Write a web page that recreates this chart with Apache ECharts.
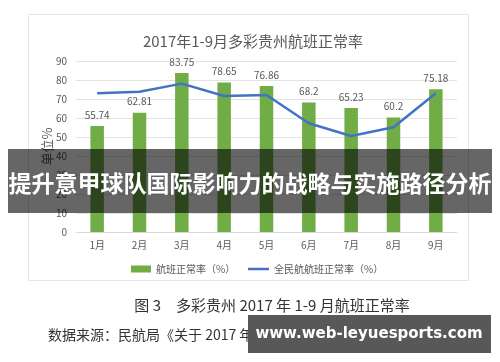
<!DOCTYPE html>
<html>
<head>
<meta charset="utf-8">
<script src="https://cdn.jsdelivr.net/npm/echarts@6/dist/echarts.min.js"></script>
<style>html,body{margin:0;padding:0;background:#fff;}#c{width:500px;height:362px;}</style>
</head>
<body>
<div id="c"></div>
<script>
var categories = ['1月','2月','3月','4月','5月','6月','7月','8月','9月'];
var barValues = [55.74, 62.81, 83.75, 78.65, 76.86, 68.2, 65.23, 60.2, 75.18];
var lineValues = [73.0, 73.8, 78.1, 71.6, 72.1, 57.2, 50.5, 55.1, 73.0];
var barName = '航班正常率（%）';
var lineName = '全民航航班正常率（%）';
var titleText = '2017年1-9月多彩贵州航班正常率';
var bannerText = '提升意甲球队国际影响力的战略与实施路径分析';
var captionText = '图 3　多彩贵州 2017 年 1-9 月航班正常率';
var sourceText = '数据来源：民航局《关于 2017 年';
var watermarkText = 'www.web-leyuesports.com';

var cjk = '"Noto Sans CJK SC", sans-serif';
var chart = echarts.init(document.getElementById('c'));
chart.setOption({
  animation: false,
  backgroundColor: '#fff',
  title: {
    text: titleText, left: 248, top: 29, textAlign: 'center',
    textStyle: {fontFamily: cjk, fontSize: 15, fontWeight: 'normal', color: '#595959'}
  },
  grid: {left: 76, right: 43, top: 61, bottom: 130},
  legend: [
    {
      left: 126, top: 259, itemWidth: 20, itemHeight: 7,
      textStyle: {fontFamily: cjk, fontSize: 10, color: '#595959'},
      data: [{name: barName, icon: 'rect'}]
    },
    {
      left: 243, top: 259, itemWidth: 21, itemHeight: 2.5,
      textStyle: {fontFamily: cjk, fontSize: 10, color: '#595959'},
      data: [{name: lineName, icon: 'rect'}]
    }
  ],
  xAxis: {
    type: 'category', data: categories,
    axisLine: {lineStyle: {color: '#d9d9d9'}},
    axisTick: {show: false},
    axisLabel: {fontFamily: cjk, fontSize: 10, color: '#595959', margin: 8}
  },
  yAxis: {
    type: 'value', min: 0, max: 90, interval: 10,
    name: '单位%', nameLocation: 'middle', nameGap: 22, nameRotate: 90, nameMoveOverlap: false,
    nameTextStyle: {fontFamily: cjk, fontSize: 13, color: '#595959'},
    axisLine: {show: false}, axisTick: {show: false},
    axisLabel: {fontFamily: cjk, fontSize: 10, color: '#595959', margin: 9},
    splitLine: {lineStyle: {color: '#e3e3e3'}}
  },
  series: [
    {
      name: barName, type: 'bar', data: barValues, barWidth: 13.5,
      itemStyle: {color: '#70AD47'},
      label: {show: true, position: 'top', fontFamily: cjk, fontSize: 10, color: '#595959', distance: 6}
    },
    {
      name: lineName, type: 'line', data: lineValues, showSymbol: false, symbol: 'none',
      lineStyle: {color: '#4472C4', width: 2.5}, itemStyle: {color: '#4472C4'}
    }
  ],
  graphic: [
    {type: 'rect', z: -1, shape: {x: 28.5, y: 14.5, width: 440, height: 266}, style: {fill: 'none', stroke: '#e6e6e6', lineWidth: 1}},
    {type: 'rect', z: 100, shape: {x: 8, y: 149, width: 484, height: 64}, style: {fill: 'rgba(0,0,0,0.6)'}},
    {type: 'text', z: 101, x: 250, y: 183, style: {text: bannerText, fill: '#fff', fontFamily: 'Noto Sans CJK SC', fontWeight: 'bold', fontSize: 23, textAlign: 'center', textVerticalAlign: 'middle'}},
    {type: 'text', z: 50, x: 272, y: 305, style: {text: captionText, fill: '#333', fontFamily: 'Noto Sans CJK SC', fontSize: 15, textAlign: 'center', textVerticalAlign: 'middle'}},
    {type: 'text', z: 50, x: 48, y: 335, style: {text: sourceText, fill: '#333', fontFamily: 'Noto Sans CJK SC', fontSize: 14, textAlign: 'left', textVerticalAlign: 'middle'}},
    {type: 'rect', z: 100, shape: {x: 248, y: 315, width: 243, height: 38}, style: {fill: '#585858'}},
    {type: 'text', z: 101, x: 369, y: 334, style: {text: watermarkText, fill: '#fff', fontFamily: 'DejaVu Sans', fontWeight: 'bold', fontSize: 15, textAlign: 'center', textVerticalAlign: 'middle'}}
  ]
});
</script>
</body>
</html>
